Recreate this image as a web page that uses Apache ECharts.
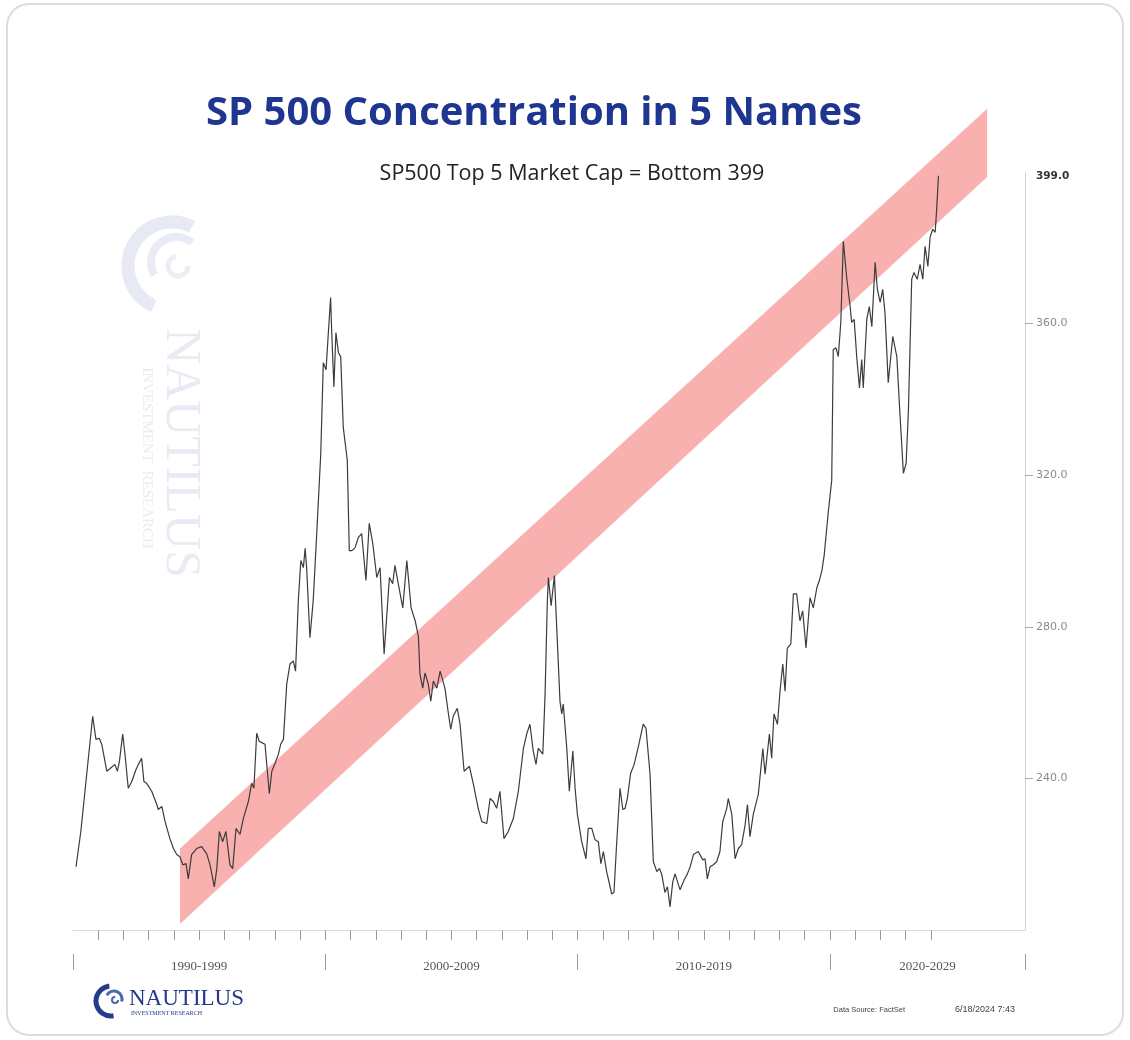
<!DOCTYPE html>
<html>
<head>
<meta charset="utf-8">
<script src="https://cdn.jsdelivr.net/npm/echarts@6/dist/echarts.min.js"></script>
<style>
  html, body { margin: 0; padding: 0; background: #fff; }
  #chart { width: 1130px; height: 1040px; }
</style>
</head>
<body>
<div id="chart"></div>
<script>
// values, [year, value]
var line1990s = [[1990.12,216.7],[1990.31,226.0],[1990.38,226.0],[1990.78,256.4],[1990.91,250.3],[1991.04,250.6],[1991.14,249.0],[1991.34,241.9],[1991.47,242.6],[1991.66,243.7],[1991.76,241.9],[1991.84,244.5],[1991.97,251.7],[1992.06,246.4],[1992.19,237.4],[1992.33,239.2],[1992.50,242.4],[1992.59,243.7],[1992.72,245.3],[1992.81,239.2],[1992.92,238.7],[1993.12,236.6],[1993.32,233.1],[1993.38,231.8],[1993.52,232.6],[1993.65,228.6],[1993.84,224.1],[1993.98,221.5],[1994.11,219.9],[1994.24,219.3],[1994.35,217.2],[1994.48,217.5],[1994.57,213.5],[1994.70,219.9],[1994.90,221.5],[1995.10,222.0],[1995.30,220.1],[1995.43,217.2],[1995.60,211.4],[1995.70,216.2],[1995.80,226.0],[1995.93,223.3],[1996.06,226.0],[1996.22,217.2],[1996.33,216.2],[1996.46,226.8],[1996.62,225.2],[1996.75,229.4],[1996.95,233.9],[1997.08,238.7],[1997.17,237.4],[1997.28,251.9],[1997.38,249.8],[1997.52,249.3],[1997.61,249.0],[1997.78,236.0],[1997.88,241.9],[1998.01,244.0],[1998.14,246.4],[1998.23,249.0],[1998.34,250.3],[1998.47,264.9],[1998.60,270.2],[1998.73,271.0],[1998.82,268.3],[1998.93,286.9],[1999.03,297.5],[1999.13,295.6],[1999.20,300.7],[1999.26,295.6],[1999.39,277.1],[1999.52,286.9],[1999.66,304.6],[1999.82,325.8],[1999.92,349.7]];
var line2000s = [[2000.03,347.8],[2000.12,357.6],[2000.21,366.9],[2000.25,358.4],[2000.34,343.3],[2000.42,357.6],[2000.52,352.3],[2000.61,351.3],[2000.71,332.7],[2000.87,324.0],[2000.95,300.1],[2001.05,300.1],[2001.18,300.9],[2001.31,303.6],[2001.44,304.6],[2001.61,292.2],[2001.74,307.3],[2001.88,302.0],[2002.04,293.0],[2002.17,295.6],[2002.33,272.8],[2002.43,282.4],[2002.54,293.0],[2002.67,291.4],[2002.76,296.2],[2002.89,291.4],[2003.07,285.0],[2003.23,297.5],[2003.40,285.0],[2003.56,281.6],[2003.69,277.4],[2003.75,267.6],[2003.86,263.8],[2003.95,267.8],[2004.08,264.9],[2004.18,260.4],[2004.28,265.7],[2004.42,263.8],[2004.55,268.3],[2004.74,263.8],[2004.88,257.0],[2004.97,253.0],[2005.07,256.4],[2005.23,258.5],[2005.34,254.3],[2005.50,241.9],[2005.71,243.2],[2005.87,238.4],[2006.06,232.1],[2006.20,228.6],[2006.40,228.1],[2006.53,234.7],[2006.66,233.9],[2006.79,232.1],[2006.92,236.6],[2007.08,224.1],[2007.25,226.0],[2007.45,229.4],[2007.65,236.6],[2007.85,247.9],[2007.98,251.7],[2008.11,254.3],[2008.24,247.2],[2008.35,243.7],[2008.44,247.9],[2008.62,246.4],[2008.71,262.3],[2008.80,286.9],[2008.84,293.0],[2008.95,285.6],[2009.08,293.5],[2009.20,275.5],[2009.30,260.4],[2009.37,257.0],[2009.43,259.6],[2009.57,247.9],[2009.67,236.6],[2009.81,247.2],[2009.90,237.4],[2009.99,230.5]];
var line2010s = [[2010.16,223.3],[2010.33,218.8],[2010.42,226.8],[2010.56,226.8],[2010.69,223.8],[2010.82,223.3],[2010.92,217.5],[2011.02,220.7],[2011.15,215.4],[2011.35,209.5],[2011.44,209.9],[2011.55,223.3],[2011.68,237.4],[2011.79,231.8],[2011.88,232.1],[2011.97,234.7],[2012.10,241.3],[2012.24,243.7],[2012.41,248.5],[2012.60,254.3],[2012.71,253.2],[2012.87,241.1],[2013.00,218.0],[2013.14,215.4],[2013.24,216.2],[2013.33,214.8],[2013.46,209.9],[2013.56,211.4],[2013.66,206.1],[2013.77,212.7],[2013.86,214.8],[2014.06,210.6],[2014.22,213.2],[2014.35,214.8],[2014.46,216.7],[2014.59,219.9],[2014.78,220.7],[2014.96,218.5],[2015.05,218.8],[2015.14,213.5],[2015.25,216.7],[2015.38,217.2],[2015.51,218.0],[2015.64,220.7],[2015.75,228.6],[2015.91,232.1],[2015.97,234.7],[2016.11,230.5],[2016.24,218.8],[2016.37,221.5],[2016.50,222.5],[2016.64,227.8],[2016.73,233.1],[2016.83,224.6],[2016.96,230.5],[2017.16,235.8],[2017.34,247.9],[2017.43,241.1],[2017.60,251.7],[2017.69,245.3],[2017.78,257.0],[2017.92,254.3],[2018.02,263.0],[2018.13,270.2],[2018.22,263.0],[2018.31,274.4],[2018.45,275.5],[2018.55,288.7],[2018.68,288.7],[2018.81,281.6],[2018.92,284.2],[2019.05,274.4],[2019.21,287.7],[2019.34,285.0],[2019.48,290.3],[2019.58,292.2],[2019.68,294.8],[2019.77,298.8],[2019.94,310.7]];
var line2020s = [[2020.07,318.7],[2020.13,353.1],[2020.24,353.6],[2020.33,351.3],[2020.43,360.3],[2020.53,381.7],[2020.67,371.7],[2020.80,364.5],[2020.86,360.3],[2020.96,361.1],[2021.06,351.3],[2021.17,343.0],[2021.26,350.5],[2021.32,343.0],[2021.46,361.1],[2021.56,364.5],[2021.66,359.2],[2021.79,376.2],[2021.88,369.0],[2021.99,365.6],[2022.09,369.0],[2022.18,362.9],[2022.31,344.4],[2022.49,356.6],[2022.65,351.3],[2022.78,335.4],[2022.91,320.5],[2023.02,323.2],[2023.11,337.2],[2023.24,371.7],[2023.33,373.5],[2023.46,371.7],[2023.57,375.6],[2023.68,371.7],[2023.77,380.4],[2023.88,375.1],[2023.97,382.8],[2024.07,384.9],[2024.17,384.1],[2024.23,390.2],[2024.30,399.0]];

// red trend channel, ends given in data units
var bandYears = [1994.24, 2026.23];
var bandTop = [221.5, 416.7];
var bandBottom = [201.6, 398.7];

var decadeStarts = [1990, 2000, 2010, 2020];
var decadeLabels = ['1990-1999', '2000-2009', '2010-2019', '2020-2029'];
var yearTicks = [1991,1992,1993,1994,1995,1996,1997,1998,1999,2000,2001,2002,2003,2004,2005,2006,2007,2008,2009,2010,2011,2012,2013,2014,2015,2016,2017,2018,2019,2020,2021,2022,2023,2024];
var yTicks = [240, 280, 320, 360];
var lastValue = 399;

var xMin = 1990, xMax = 2027.73;

var allPoints = line1990s.concat(line2000s, line2010s, line2020s);
var majorTicks = decadeStarts.concat([xMax]);
var labelPos = decadeStarts.map(function (d) { return (d + Math.min(d + 10, xMax)) / 2; });

var myChart = echarts.init(document.getElementById('chart'));

var option = {
    backgroundColor: '#ffffff',
    animation: false,
    title: [
        {
            text: 'SP 500 Concentration in 5 Names',
            left: 529, top: 89, textAlign: 'center',
            textStyle: { fontFamily: 'Open Sans', fontWeight: 'bold', fontSize: 40, color: '#1f3690' }
        },
        {
            text: 'SP500 Top 5 Market Cap = Bottom 399',
            left: 567, top: 158, textAlign: 'center',
            textStyle: { fontFamily: 'Open Sans', fontWeight: 'normal', fontSize: 21.5, color: '#222' }
        }
    ],
    grid: { left: 73, right: 105, top: 172, bottom: 110, containLabel: false },
    xAxis: [
        {
            type: 'value', min: xMin, max: xMax, position: 'bottom',
            axisLine: { show: true, lineStyle: { color: '#dadada', width: 1 } },
            axisTick: { show: true, customValues: yearTicks, length: 10, lineStyle: { color: '#9a9a9a' } },
            axisLabel: { show: false },
            splitLine: { show: false }
        },
        {
            type: 'value', min: xMin, max: xMax, position: 'bottom', offset: 24,
            axisLine: { show: false },
            axisTick: { show: true, customValues: majorTicks, length: 16, lineStyle: { color: '#9a9a9a' } },
            axisLabel: {
                customValues: labelPos, margin: 6,
                fontFamily: 'Liberation Serif', fontSize: 13, color: '#555',
                formatter: function (v) {
                    for (var i = 0; i < decadeStarts.length; i++) {
                        if (v >= decadeStarts[i] && v < decadeStarts[i] + 10) { return decadeLabels[i]; }
                    }
                    return '';
                }
            },
            splitLine: { show: false }
        }
    ],
    yAxis: {
        type: 'value', position: 'right', min: 200, max: 400, interval: 40,
        axisLine: { show: true, lineStyle: { color: '#d2d2d2' } },
        axisTick: { show: true, customValues: yTicks, length: 8, lineStyle: { color: '#aaa' } },
        axisLabel: {
            customValues: yTicks.concat([lastValue]), margin: 11,
            fontFamily: 'DejaVu Sans', fontSize: 11, color: '#8a8a8a',
            formatter: function (v) {
                return v === lastValue ? '{b|' + v.toFixed(1) + '}' : v.toFixed(1);
            },
            rich: { b: { fontFamily: 'DejaVu Sans', fontSize: 10.5, fontWeight: 'bold', color: '#333' } }
        },
        splitLine: { show: false }
    },
    series: [
        {
            type: 'custom', name: 'channel', clip: false, silent: true, z: 1,
            data: [[bandYears[0], bandTop[0]]],
            renderItem: function (params, api) {
                var pts = [
                    api.coord([bandYears[0], bandTop[0]]),
                    api.coord([bandYears[1], bandTop[1]]),
                    api.coord([bandYears[1], bandBottom[1]]),
                    api.coord([bandYears[0], bandBottom[0]])
                ];
                return { type: 'polygon', shape: { points: pts }, style: { fill: '#f9b1b0' } };
            }
        },
        {
            type: 'line', name: 'Top 5 vs Bottom', data: allPoints, z: 3,
            symbol: 'none', showSymbol: false,
            lineStyle: { color: '#3c3c3c', width: 1.2 }
        }
    ],
    graphic: [
        // card frame
        { type: 'rect', z: -10, shape: { x: 7, y: 4, width: 1116, height: 1031, r: 22 },
          style: { fill: 'none', stroke: '#dddddd', lineWidth: 2 } },
        // faint watermark
        { type: 'arc', z: -5, shape: { cx: 172, cy: 266, r: 44, startAngle: -1.1, endAngle: 2.0, clockwise: false },
          style: { stroke: '#e7eaf3', lineWidth: 13, fill: 'none' } },
        { type: 'arc', z: -5, shape: { cx: 176, cy: 262, r: 25, startAngle: 2.6, endAngle: 5.4 },
          style: { stroke: '#e9ecf4', lineWidth: 8, fill: 'none' } },
        { type: 'arc', z: -5, shape: { cx: 178, cy: 266, r: 10, startAngle: 0, endAngle: 4.5 },
          style: { stroke: '#eceef5', lineWidth: 5, fill: 'none' } },
        { type: 'text', z: -5, x: 180, y: 453, rotation: -Math.PI / 2,
          style: { text: 'NAUTILUS', fontFamily: 'Liberation Serif', fontSize: 50, fill: '#e8ebf3', align: 'center', verticalAlign: 'middle' } },
        { type: 'text', z: -5, x: 147, y: 458, rotation: -Math.PI / 2,
          style: { text: 'INVESTMENT  RESEARCH', fontFamily: 'Liberation Serif', fontSize: 15, fill: '#e8ebf3', align: 'center', verticalAlign: 'middle' } },
        // bottom-left logo
        { type: 'arc', shape: { cx: 111, cy: 1001, r: 15, startAngle: 1.4, endAngle: 4.6 },
          style: { stroke: '#243c8e', lineWidth: 5, fill: 'none' } },
        { type: 'arc', shape: { cx: 114, cy: 999, r: 8, startAngle: 3.6, endAngle: 6.6 },
          style: { stroke: '#4a67b0', lineWidth: 3, fill: 'none' } },
        { type: 'arc', shape: { cx: 115, cy: 1000, r: 3, startAngle: 0, endAngle: 4.8 },
          style: { stroke: '#4a67b0', lineWidth: 2, fill: 'none' } },
        { type: 'text', x: 129, y: 999,
          style: { text: 'NAUTILUS', fontFamily: 'Liberation Serif', fontSize: 23, fill: '#233a8c', verticalAlign: 'middle' } },
        { type: 'text', x: 131, y: 1013,
          style: { text: 'INVESTMENT RESEARCH', fontFamily: 'Liberation Serif', fontSize: 6, fill: '#233a8c', verticalAlign: 'middle' } },
        // source note
        { type: 'text', x: 905, y: 1010,
          style: { text: 'Data Source: FactSet', fontFamily: 'Liberation Sans', fontSize: 7.5, fill: '#444', align: 'right', verticalAlign: 'middle' } },
        { type: 'text', x: 1015, y: 1010,
          style: { text: '6/18/2024 7:43', fontFamily: 'Liberation Sans', fontSize: 9, fill: '#444', align: 'right', verticalAlign: 'middle' } }
    ]
};

myChart.setOption(option);
</script>
</body>
</html>
